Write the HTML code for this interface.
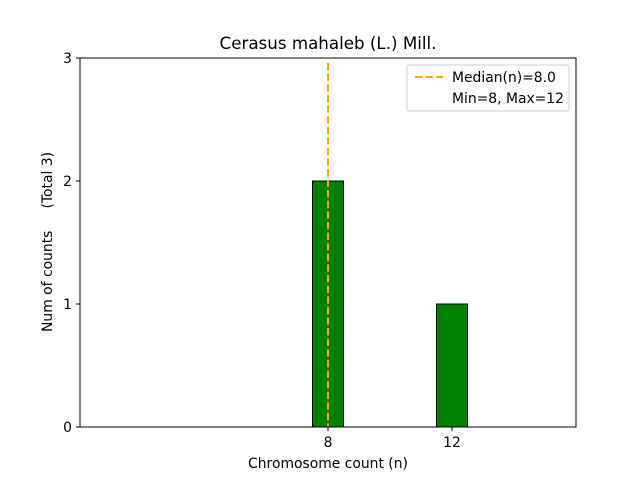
<!DOCTYPE html>
<html><head><meta charset="utf-8"><style>body{margin:0;background:#fff}svg{font-family:"DejaVu Sans","Liberation Sans",sans-serif}</style></head>
<body>
<svg id="c" width="640" height="480" xmlns="http://www.w3.org/2000/svg">
<text x="328" y="49" font-size="16.7" text-anchor="middle">Cerasus mahaleb (L.) Mill.</text>
<g id="plot"></g>
<rect x="80" y="58" width="496" height="369" fill="none" stroke="#000" stroke-width="1"/>
<text x="328" y="468" font-size="13.9" text-anchor="middle">Chromosome count (n)</text>
<text transform="translate(52,242) rotate(-90)" font-size="13.9" text-anchor="middle">Num of counts &#160;&#160;&#160;&#160;(Total 3)</text>
<g>
<rect x="407" y="65" width="162" height="46" rx="2" fill="#fff" stroke="#ccc"/>
<line x1="415" y1="77" x2="443" y2="77" stroke="#ffa500" stroke-width="2" stroke-dasharray="7.4,3.2"/>
<text x="452" y="82" font-size="13.9">Median(n)=8.0</text>
<text x="452" y="103" font-size="13.9">Min=8, Max=12</text>
</g>
</svg>
<script>
const categories=[8,12];
const counts=[2,1];
const xTicks=[8,12];
const yTicks=[0,1,2,3];
const median=[8];
const NS="http://www.w3.org/2000/svg";
const X=v=>80+v*31, Y=v=>427-v*123;
const g=document.getElementById('plot');
function mk(t,a){const e=document.createElementNS(NS,t);for(const k in a)e.setAttribute(k,a[k]);g.appendChild(e);return e;}
categories.forEach((c,i)=>{const r=mk('rect',{x:X(c-0.5),y:Y(counts[i]),width:31,height:Y(0)-Y(counts[i]),fill:'#008000',stroke:'#000','stroke-width':1});

});
median.forEach(m=>{const l=mk('line',{x1:X(m),x2:X(m),y1:Y(3)+5,y2:Y(0),stroke:'#ffa500','stroke-width':2,'stroke-dasharray':'7.4,3.2'});

});
xTicks.forEach(t=>{const l=mk('line',{x1:X(t),x2:X(t),y1:427,y2:431,stroke:'#000'});


const tx=mk('text',{x:X(t),y:447,'font-size':13.9,'text-anchor':'middle'});tx.textContent=t;

});
yTicks.forEach(t=>{const l=mk('line',{x1:76,x2:80,y1:Y(t),y2:Y(t),stroke:'#000'});


const tx=mk('text',{x:72,y:Y(t)+5,'font-size':13.9,'text-anchor':'end'});tx.textContent=t;

});
</script>
</body></html>
